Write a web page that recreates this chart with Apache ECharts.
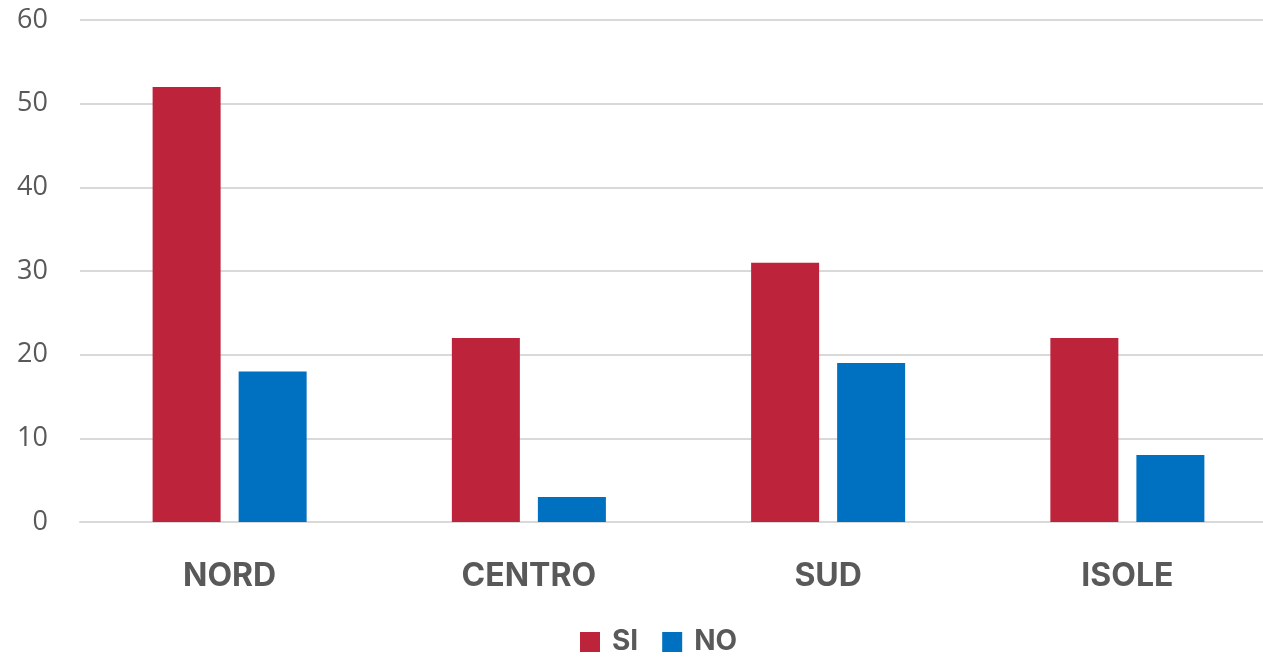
<!DOCTYPE html>
<html>
<head>
<meta charset="utf-8">
<script src="https://cdn.jsdelivr.net/npm/echarts@6/dist/echarts.min.js"></script>
<style>
html,body{margin:0;padding:0;background:#fff;overflow:hidden;}
#c{width:1277px;height:658px;}
</style>
</head>
<body>
<div id="c"></div>
<script>
const categories = ['NORD', 'CENTRO', 'SUD', 'ISOLE'];
const siValues = [52, 22, 31, 22];
const noValues = [18, 3, 19, 8];
const yTicks = [0, 10, 20, 30, 40, 50, 60];

const chart = echarts.init(document.getElementById('c'), null, {renderer: 'canvas'});
chart.setOption({
  animation: false,
  backgroundColor: '#ffffff',
  grid: {left: 80, right: 0, top: 20, bottom: 136, containLabel: false},
  legend: {
    top: 628, left: 580, padding: 0,
    itemWidth: 20, itemHeight: 20, itemGap: 24,
    icon: 'rect',
    textStyle: {fontFamily: 'Inter', fontWeight: 'bold', fontSize: 28, color: '#595959', padding: [0,0,0,7]},
    data: ['SI', 'NO']
  },
  xAxis: {
    type: 'category',
    data: categories,
    axisLine: {show: true, lineStyle: {color: '#d9d9d9', width: 2}},
    axisTick: {show: false},
    axisLabel: {margin: 38, fontFamily: 'Inter', fontWeight: 'bold', fontSize: 32, color: '#595959'}
  },
  yAxis: {
    type: 'value',
    min: yTicks[0], max: yTicks[yTicks.length - 1], interval: 10,
    axisLine: {show: false},
    axisTick: {show: false},
    splitLine: {lineStyle: {color: '#d9d9d9', width: 2}},
    axisLabel: {margin: 32, fontFamily: 'Open Sans', fontSize: 27, color: '#595959'}
  },
  series: [
    {name: 'SI', type: 'bar', data: siValues, barWidth: 68, barGap: '26.5%', itemStyle: {color: '#be233c'}},
    {name: 'NO', type: 'bar', data: noValues, barWidth: 68, barGap: '26.5%', itemStyle: {color: '#0070c0'}}
  ]
});
</script>
</body>
</html>
